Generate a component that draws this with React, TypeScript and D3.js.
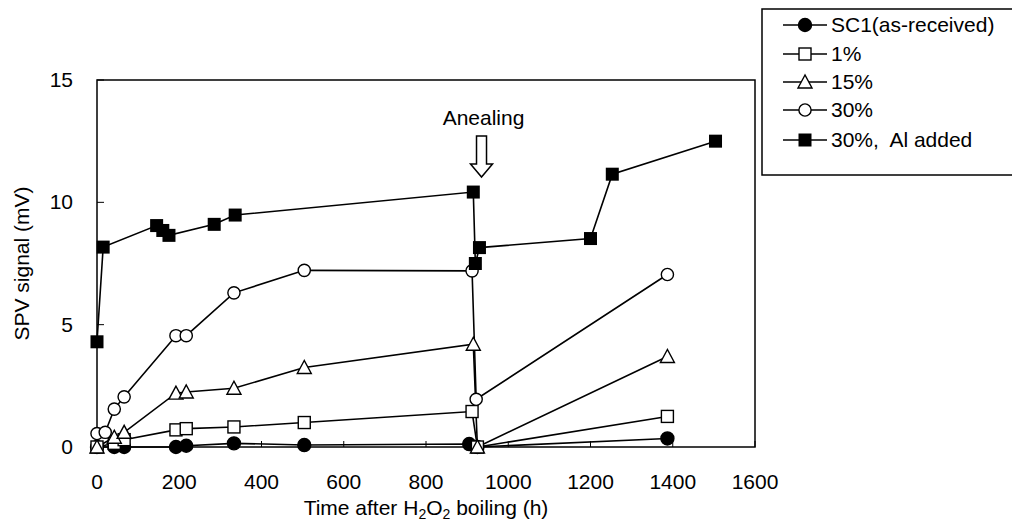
import React from "react";
import * as d3 from "d3";

// values: [hours, mV]
const sc1: [number, number][] = [
  [0, 0], [42, 0], [66, 0], [192, 0], [217, 0.05], [333, 0.15], [504, 0.08], [905, 0.12], [925, 0], [1387, 0.35],
];
const pct1: [number, number][] = [
  [0, 0], [42, 0.15], [66, 0.3], [192, 0.7], [217, 0.75], [333, 0.82], [504, 1.0], [912, 1.45], [925, 0], [1387, 1.25],
];
const pct15: [number, number][] = [
  [0, 0], [42, 0.4], [66, 0.6], [192, 2.2], [217, 2.25], [333, 2.4], [504, 3.25], [915, 4.2], [925, 0], [1387, 3.7],
];
const pct30: [number, number][] = [
  [0, 0.55], [20, 0.6], [42, 1.55], [66, 2.05], [192, 4.55], [217, 4.55], [333, 6.3], [504, 7.22], [912, 7.2], [922, 1.95], [1387, 7.05],
];
const pct30Al: [number, number][] = [
  [0, 4.3], [15, 8.17], [145, 9.05], [160, 8.85], [175, 8.65], [285, 9.1], [336, 9.48], [915, 10.42], [920, 7.5], [930, 8.15], [1200, 8.52], [1253, 11.15], [1504, 12.5],
];

const seriesNames = ["SC1(as-received)", "1%", "15%", "30%", "30%,\u00a0 Al added"];
const seriesData = [sc1, pct1, pct15, pct30, pct30Al];
const seriesMarkers = ["circleFilled", "square", "triangle", "circle", "squareFilled"];

const xTicks = [0, 200, 400, 600, 800, 1000, 1200, 1400, 1600];
const yTicks = [0, 5, 10, 15];

const annealTime = 935;

const W = 1012;
const H = 525;
const FONT = "'Liberation Sans', Arial, sans-serif";

function Marker({ kind, x, y }: { kind: string; x: number; y: number }) {
  const s = 13;
  const sw = 1.4;
  if (kind === "circleFilled")
    return <circle cx={x} cy={y} r={s / 2} fill="#000" stroke="#000" strokeWidth={sw} />;
  if (kind === "circle")
    return <circle cx={x} cy={y} r={s / 2 - 0.4} fill="#fff" stroke="#000" strokeWidth={sw} />;
  if (kind === "square")
    return <rect x={x - s / 2 + 0.5} y={y - s / 2 + 0.5} width={s - 1} height={s - 1} fill="#fff" stroke="#000" strokeWidth={sw} />;
  if (kind === "squareFilled")
    return <rect x={x - s / 2} y={y - s / 2} width={s} height={s} fill="#000" />;
  const h = 12;
  const pts = `${x},${y - h / 2 - 1} ${x - 7},${y + h / 2} ${x + 7},${y + h / 2}`;
  return <polygon points={pts} fill="#fff" stroke="#000" strokeWidth={sw} strokeLinejoin="miter" />;
}

export default function App() {
  const x = d3.scaleLinear().domain([0, 1600]).range([97, 755]);
  const y = d3.scaleLinear().domain([0, 15]).range([447, 80]);

  const line = d3
    .line<[number, number]>()
    .x((d) => x(d[0]))
    .y((d) => y(d[1]));

  const legendX = 762;
  const legendRows = [25, 54, 82, 110, 140];

  const ax = x(annealTime);
  const arrowPath = `M${ax - 5},136 L${ax + 5},136 L${ax + 5},164 L${ax + 11},164 L${ax},177 L${ax - 11},164 L${ax - 5},164 Z`;

  return (
    <svg
      width={W}
      height={H}
      style={{ position: "absolute", left: 0, top: 0, background: "#fff" }}
      fontFamily={FONT}
    >
      <rect width={W} height={H} fill="#fff" />

      {/* plot frame */}
      <rect x={x(0)} y={y(15)} width={x(1600) - x(0)} height={y(0) - y(15)} fill="none" stroke="#000" strokeWidth={1.5} />

      {/* ticks */}
      {yTicks.map((t) => (
        <g key={"y" + t}>
          <line x1={x(0)} x2={x(0) + 7} y1={y(t)} y2={y(t)} stroke="#000" strokeWidth={1} />
          <text x={73} y={y(t) + 7} fontSize={21} textAnchor="end">
            {t}
          </text>
        </g>
      ))}
      {xTicks.map((t) => (
        <g key={"x" + t}>
          <line x1={x(t)} x2={x(t)} y1={y(0)} y2={y(0) - 6} stroke="#000" strokeWidth={1} />
          <text x={x(t)} y={489} fontSize={21} textAnchor="middle">
            {t}
          </text>
        </g>
      ))}

      {/* axis titles */}
      <text x={(x(0) + x(1600)) / 2} y={515} fontSize={21} textAnchor="middle">
        Time after H<tspan fontSize={14} dy={4}>2</tspan>
        <tspan dy={-4}>O</tspan>
        <tspan fontSize={14} dy={4}>2</tspan>
        <tspan dy={-4}> boiling (h)</tspan>
      </text>
      <text transform={`translate(29,${(y(0) + y(15)) / 2}) rotate(-90)`} fontSize={21} textAnchor="middle">
        SPV signal (mV)
      </text>

      {/* series */}
      {seriesData.map((d, i) => (
        <path key={"l" + i} d={line(d) || ""} fill="none" stroke="#000" strokeWidth={1.6} />
      ))}
      {seriesData.map((d, i) => (
        <g key={"m" + i}>
          {d.map((p, j) => (
            <Marker key={j} kind={seriesMarkers[i]} x={x(p[0])} y={y(p[1])} />
          ))}
        </g>
      ))}

      {/* annealing annotation */}
      <text x={ax + 2} y={125} fontSize={21} textAnchor="middle">
        Anealing
      </text>
      <path d={arrowPath} fill="#fff" stroke="#000" strokeWidth={1.5} />

      {/* legend */}
      <rect x={legendX} y={9} width={W - legendX + 5} height={166} fill="#fff" stroke="#000" strokeWidth={1.5} />
      {seriesNames.map((name, i) => (
        <g key={"lg" + i}>
          <line x1={783} x2={827} y1={legendRows[i]} y2={legendRows[i]} stroke="#000" strokeWidth={1.5} />
          <Marker kind={seriesMarkers[i]} x={805} y={legendRows[i]} />
          <text x={831} y={legendRows[i] + 7} fontSize={21}>
            {name}
          </text>
        </g>
      ))}
    </svg>
  );
}
